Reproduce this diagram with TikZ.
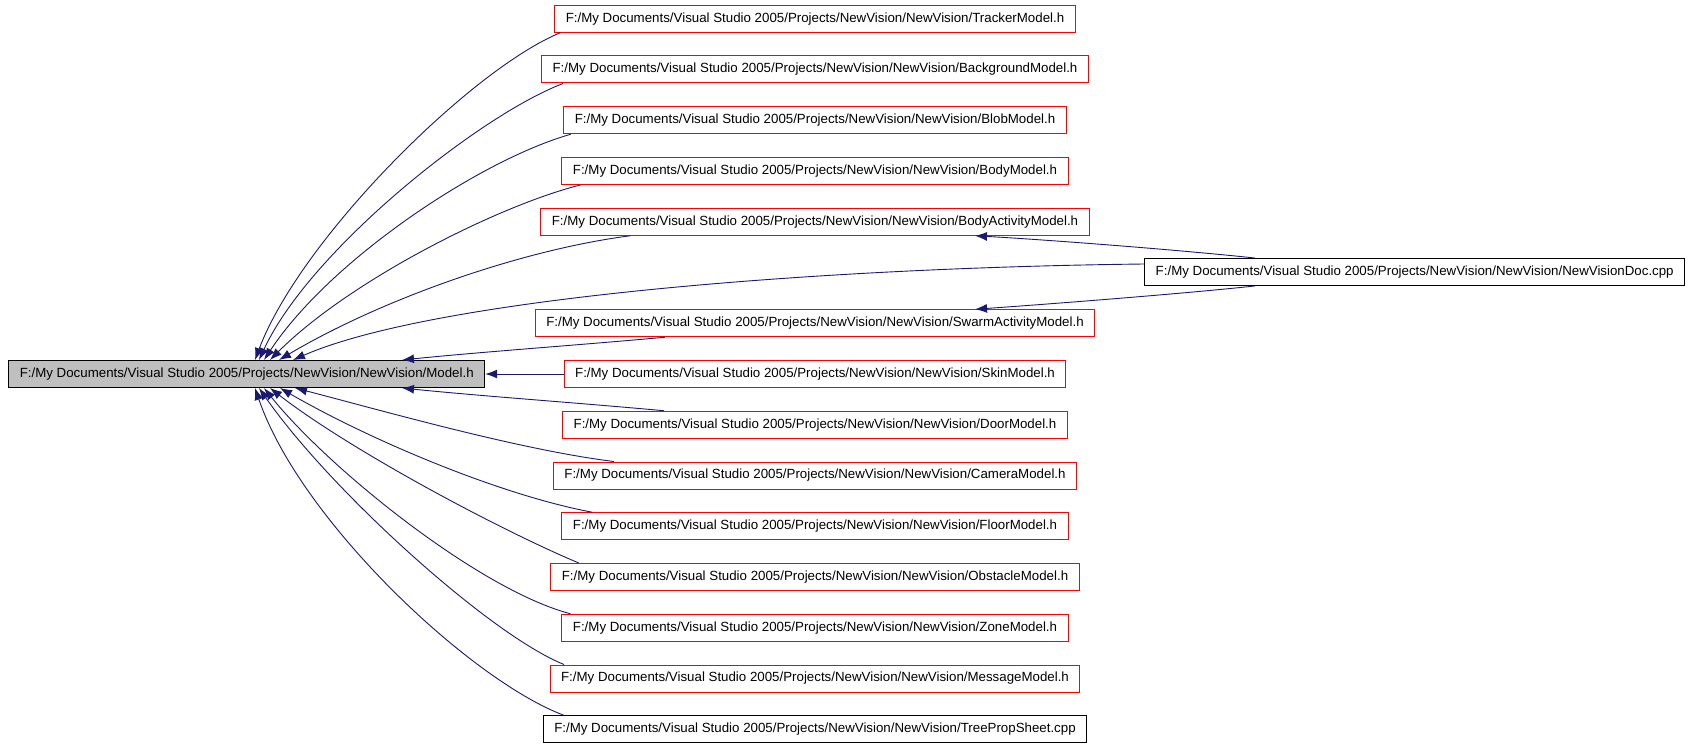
\documentclass[tikz,border=0pt]{standalone}
\usepackage{fontspec}
\setmainfont{Liberation Sans}
\usetikzlibrary{calc,arrows.meta}

\definecolor{incnavy}{RGB}{25,25,112}
\definecolor{modelgray}{RGB}{191,191,191}

\tikzset{
	hdrbox/.style={draw=red, line width=1pt, minimum height=27pt, inner xsep=11pt, inner ysep=0pt, font=\fontsize{13.3}{16}\selectfont},
	srcbox/.style={hdrbox, draw=black},
	mainbox/.style={hdrbox, draw=black, fill=modelgray},
	incl/.style={incnavy, line width=0.9pt, -{Latex[length=12pt,width=9pt]}}
}

\begin{document}
\begin{tikzpicture}[x=1pt,y=-1pt]
		% Picture frame in pixels
		\useasboundingbox (0,0) rectangle (1693,746);
		
		% Column of headers and row spacing
		\def\colx{815}
		\def\rowgap{50.75}
		\def\rowtop{18.75}
		\def\srcdir{F:/My Documents/Visual Studio 2005/Projects/NewVision/NewVision/}
		
		% The included header
		\node[mainbox] (model) at (246.75,374) {\srcdir Model.h};
		
		% Files that include it
		\node[hdrbox] (tracker) at (\colx,{\rowtop+0*\rowgap}) {\srcdir TrackerModel.h};
		\node[hdrbox] (background) at (\colx,{\rowtop+1*\rowgap}) {\srcdir BackgroundModel.h};
		\node[hdrbox] (blob) at (\colx,{\rowtop+2*\rowgap}) {\srcdir BlobModel.h};
		\node[hdrbox] (body) at (\colx,{\rowtop+3*\rowgap}) {\srcdir BodyModel.h};
		\node[hdrbox] (bodyact) at (\colx,{\rowtop+4*\rowgap}) {\srcdir BodyActivityModel.h};
		\node[hdrbox] (swarm) at (\colx,{\rowtop+6*\rowgap}) {\srcdir SwarmActivityModel.h};
		\node[hdrbox] (skin) at (\colx,{\rowtop+7*\rowgap}) {\srcdir SkinModel.h};
		\node[hdrbox] (door) at (\colx,{\rowtop+8*\rowgap}) {\srcdir DoorModel.h};
		\node[hdrbox] (camera) at (\colx,{\rowtop+9*\rowgap}) {\srcdir CameraModel.h};
		\node[hdrbox] (floor) at (\colx,{\rowtop+10*\rowgap}) {\srcdir FloorModel.h};
		\node[hdrbox] (obstacle) at (\colx,{\rowtop+11*\rowgap}) {\srcdir ObstacleModel.h};
		\node[hdrbox] (zone) at (\colx,{\rowtop+12*\rowgap}) {\srcdir ZoneModel.h};
		\node[hdrbox] (message) at (\colx,{\rowtop+13*\rowgap}) {\srcdir MessageModel.h};
		\node[srcbox] (treeprop) at (\colx,{\rowtop+14*\rowgap}) {\srcdir TreePropSheet.cpp};
		
		% The document source on the far right
		\node[srcbox] (nvdoc) at (1414.7,272) {\srcdir NewVisionDoc.cpp};
		
		% Edges into the top of Model.h
		\draw[incl] ([xshift=6pt]tracker.south west) .. controls (470,70) and (300,240) .. ([xshift=8.25pt]model.north);
		\draw[incl] ([xshift=22pt]background.south west) .. controls (480,115) and (310,250) .. ([xshift=12.25pt]model.north);
		\draw[incl] ([xshift=7.5pt]blob.south west) .. controls (480,160) and (330,260) .. ([xshift=17.25pt]model.north);
		\draw[incl] ([xshift=19pt]body.south west) .. controls (500,205) and (350,280) .. ([xshift=23.25pt]model.north);
		\draw[incl] ([xshift=90pt]bodyact.south west) .. controls (520,250) and (380,300) .. ([xshift=32.25pt]model.north);
		\draw[incl] ([yshift=8pt]nvdoc.west) .. controls (800,268) and (430,300) .. ([xshift=46.25pt]model.north);
		\draw[incl] ([xshift=130pt]swarm.south west) .. controls (580,345) and (480,352) .. ([xshift=155.25pt]model.north);
		
		% Straight edge into the side
		\draw[incl] (skin.west) -- (model.east);
		
		% Edges into the bottom of Model.h
		\draw[incl] ([xshift=102pt]door.north west) .. controls (580,403) and (480,396) .. ([xshift=155.25pt]model.south);
		\draw[incl] ([xshift=61pt]camera.north west) .. controls (520,450) and (380,410) .. ([xshift=48.25pt]model.south);
		\draw[incl] ([xshift=31pt]floor.north west) .. controls (500,495) and (370,440) .. ([xshift=33.25pt]model.south);
		\draw[incl] ([xshift=28.5pt]obstacle.north west) .. controls (500,530) and (350,450) .. ([xshift=23.25pt]model.south);
		\draw[incl] ([xshift=9pt]zone.north west) .. controls (480,590) and (330,470) .. ([xshift=17.25pt]model.south);
		\draw[incl] ([xshift=14.5pt]message.north west) .. controls (490,635) and (330,490) .. ([xshift=12.25pt]model.south);
		\draw[incl] ([xshift=21pt]treeprop.north west) .. controls (470,680) and (300,520) .. ([xshift=8.25pt]model.south);
		
		% The document source also pulls in the two activity models
		\draw[incl] ([xshift=-160pt]nvdoc.north) .. controls (1180,250) and (1050,240) .. ([xshift=160pt]bodyact.south);
		\draw[incl] ([xshift=-160pt]nvdoc.south) .. controls (1180,294) and (1050,304) .. ([xshift=160pt]swarm.north);
	\end{tikzpicture}
\end{document}
